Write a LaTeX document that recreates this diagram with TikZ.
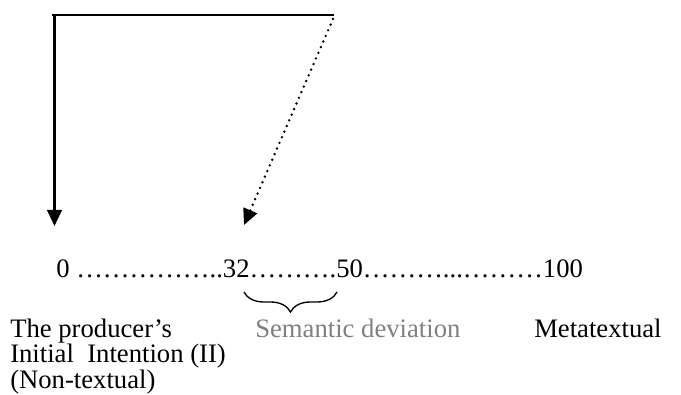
\documentclass[tikz,border=0pt]{standalone}
\usepackage{fontspec}
\setmainfont{Liberation Serif}
\usetikzlibrary{arrows.meta,decorations.pathreplacing}
\definecolor{devgray}{RGB}{128,128,128}

\begin{document}
\begin{tikzpicture}[x=0.75pt,y=0.75pt,
    txt/.style={inner sep=0pt,anchor=base west,font=\fontsize{20}{26}\selectfont},
    tip/.style={-{Triangle[length=12pt,width=11pt]}}]
    \useasboundingbox (0,0) rectangle (681,-395);

    % scale and labels
    \node[txt] (line) at (56,-277) {0 ……………..32……….50………...………100};
    \node[txt] (prodA) at (10,-337) {The producer’s};
    \node[txt] (prodB) at (10,-362.5) {Initial\ \ Intention (II)};
    \node[txt] (prodC) at (10,-388) {(Non-textual)};
    \node[txt,text=devgray] (sem) at (255,-337) {Semantic deviation};
    \node[txt] (meta) at (534,-337) {Metatextual};

    \coordinate (topL) at (52,-15);
    \coordinate (topR) at (334,-15);
    \coordinate (tip0) at (54.5,-226);
    \coordinate (tip32) at (244,-225);
    \coordinate (braceL) at (244,-292);
    \coordinate (braceR) at (337,-292);

    \draw[line width=1.6pt] (topL) -- (topR);
    \draw[line width=1.6pt,tip] (54.5,-15) -- (tip0);
    \draw[line width=2pt,line cap=round,dash pattern=on 0pt off 4.6pt,tip] (333,-19) -- (tip32);
    \draw[line width=1pt,decorate,decoration={brace,mirror,amplitude=15pt}] (braceL) -- (braceR);
\end{tikzpicture}
\end{document}
